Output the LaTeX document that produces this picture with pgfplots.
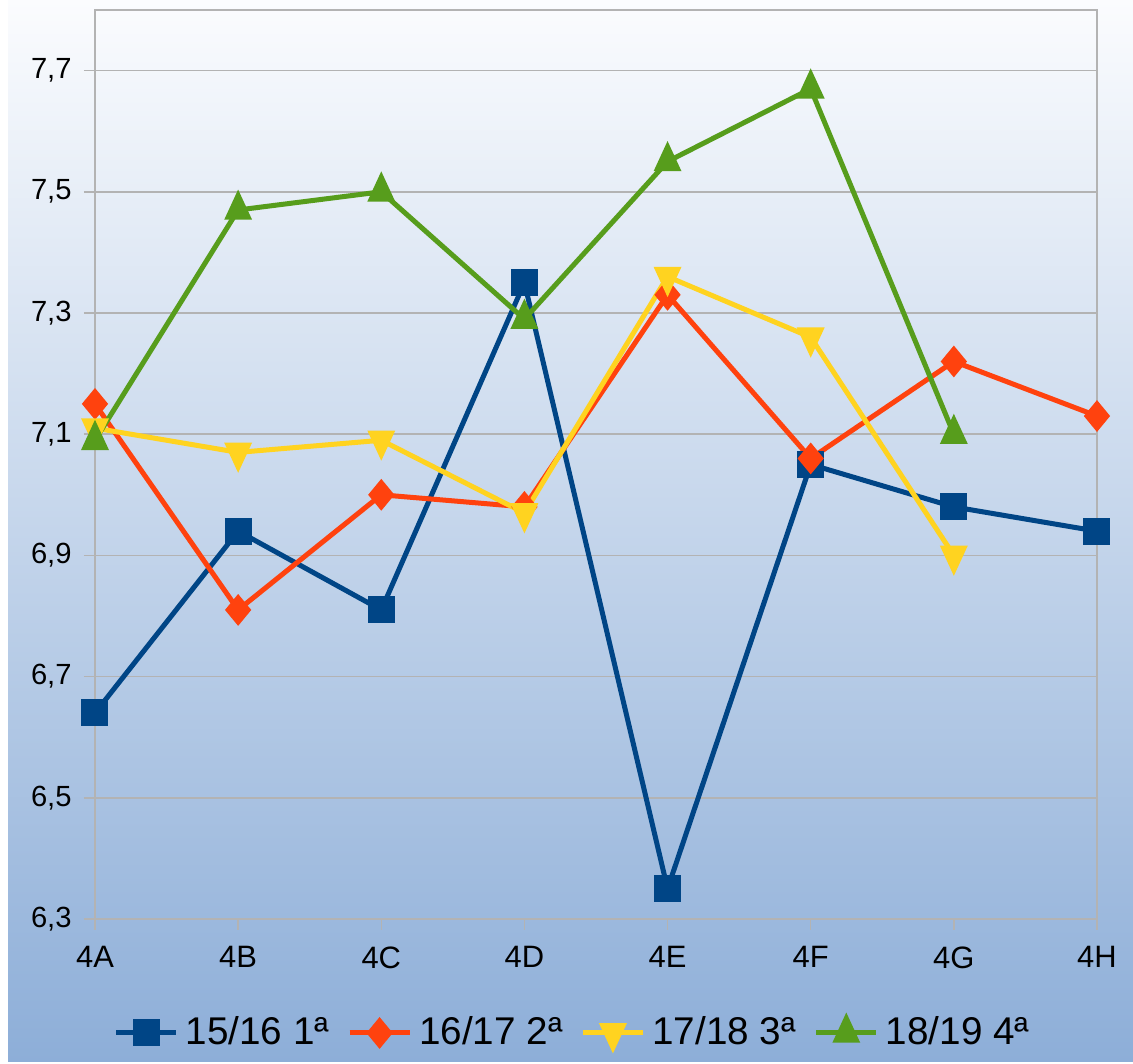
\documentclass[border=0pt]{standalone}
\usepackage{fontspec}
\setmainfont{Liberation Sans}
\usepackage{pgfplots}
\pgfplotsset{compat=1.18}
\definecolor{cBlue}{HTML}{004586}
\definecolor{cOrange}{HTML}{FF420E}
\definecolor{cYellow}{HTML}{FFD320}
\definecolor{cGreen}{HTML}{579D1C}
\definecolor{gridgray}{HTML}{B3B3B3}
\definecolor{bgtop}{RGB}{251,252,254}
\definecolor{bgbot}{RGB}{141,174,216}

\begin{document}
\begin{tikzpicture}[x=0.1mm,y=0.1mm]
% page background: thin white strip on the left, then the vertical gradient
\fill[white] (0,0) rectangle (1133,1062);
\shade[top color=bgtop, bottom color=bgbot] (8,0) rectangle (1133,1062);
\begin{axis}[
  at={(9.5mm,14.3mm)}, anchor=south west,
  scale only axis, width=100.2mm, height=90.9mm,
  xmin=0, xmax=7, ymin=6.3, ymax=7.8,
  xtick={0,1,2,3,4,5,6,7},
  xticklabels={4A,4B,4C,4D,4E,4F,4G,4H},
  ytick={6.3,6.5,6.7,6.9,7.1,7.3,7.5,7.7},
  ymajorgrids,
  major grid style={gridgray, line width=0.15mm},
  axis line style={gridgray, line width=0.15mm},
  tick style={gridgray, line width=0.15mm},
  tick align=outside, major tick length=1.1mm,
  xtick pos=bottom, ytick pos=left,
  /pgf/number format/assume math mode=true,
  y tick label style={/pgf/number format/.cd, fixed, fixed zerofill, precision=1, use comma},
  tick label style={font=\fontsize{8.3}{10}\selectfont, black},
  x tick label style={font=\fontsize{8.8}{10}\selectfont, yshift=-0.4mm},
  clip=false,
  legend columns=4,
  legend style={draw=none, fill=none, at={(0.479,-0.1254)}, anchor=center,
    font=\fontsize{11}{13}\selectfont,
    /tikz/every even column/.append style={column sep=1.1mm}},
  every axis plot/.append style={line width=0.5mm},
]
\addplot[cBlue, mark=square*, mark size=1.1mm, mark options={solid}]
  coordinates {(0,6.64) (1,6.94) (2,6.81) (3,7.35) (4,6.35) (5,7.05) (6,6.98) (7,6.94)};
\addlegendentry{15/16 1ª}
\addplot[cOrange, mark=diamond*, mark size=1.2mm, mark options={solid, xscale=1.1}]
  coordinates {(0,7.15) (1,6.81) (2,7.00) (3,6.98) (4,7.33) (5,7.06) (6,7.22) (7,7.13)};
\addlegendentry{16/17 2ª}
\addplot[cYellow, mark=triangle*, mark size=1.45mm, mark options={solid, xscale=0.8, rotate=180}]
  coordinates {(0,7.11) (1,7.07) (2,7.09) (3,6.97) (4,7.36) (5,7.26) (6,6.90)};
\addlegendentry{17/18 3ª}
\addplot[cGreen, mark=triangle*, mark size=1.45mm, mark options={solid, xscale=0.8}]
  coordinates {(0,7.09) (1,7.47) (2,7.50) (3,7.29) (4,7.55) (5,7.67) (6,7.10)};
\addlegendentry{18/19 4ª}
\end{axis}
\end{tikzpicture}
\end{document}
